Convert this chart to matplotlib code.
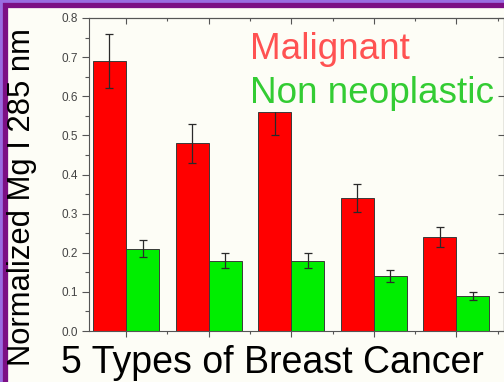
import matplotlib.pyplot as plt
from matplotlib.patches import Rectangle

# data
groups = [1, 2, 3, 4, 5]
malignant = [0.69, 0.48, 0.56, 0.34, 0.24]
malignant_err = [0.07, 0.05, 0.06, 0.035, 0.025]
non_neoplastic = [0.21, 0.18, 0.18, 0.14, 0.09]
non_neoplastic_err = [0.022, 0.02, 0.02, 0.015, 0.01]
y_ticks = [0.0, 0.1, 0.2, 0.3, 0.4, 0.5, 0.6, 0.7, 0.8]

plt.rcParams['font.family'] = ['Liberation Sans', 'DejaVu Sans']

W, H = 504, 382
fig = plt.figure(figsize=(W / 100, H / 100), dpi=100, facecolor='#9a6ce0')

# slide panel with purple border
fig.patches.append(Rectangle((4.5 / W, -0.1), 1.2, 1 - 4.5 / H + 0.1,
                             transform=fig.transFigure, facecolor='#fdfdf6',
                             edgecolor='#7c0f84', linewidth=3.8, zorder=-5))

ax = fig.add_axes([89 / W, 51 / H, (W - 89) / W, (331 - 18) / H])
ax.set_facecolor('none')

width = 0.4
red_x = [g - width / 2 for g in groups]
green_x = [g + width / 2 for g in groups]
err_kw = dict(ecolor='#2a2a2a', elinewidth=0.9, capsize=3, capthick=0.9)
ax.bar(red_x, malignant, width, yerr=malignant_err, color='#ff0000',
       edgecolor='#3a3a3a', linewidth=0.7, error_kw=err_kw)
ax.bar(green_x, non_neoplastic, width, yerr=non_neoplastic_err, color='#00ee00',
       edgecolor='#3a3a3a', linewidth=0.7, error_kw=err_kw)

ax.set_xlim(0.552, 5.576)
ax.set_ylim(0, 0.8)

for s in ax.spines.values():
    s.set_color('#555555')
    s.set_linewidth(0.8)

ax.set_xticks(groups)
ax.set_xticks([g + 0.5 for g in groups], minor=True)
ax.set_yticks(y_ticks)
ax.set_yticks([v + 0.05 for v in y_ticks[:-1]], minor=True)
ax.set_yticklabels([f'{v:.1f}' for v in y_ticks])
ax.tick_params(axis='x', which='both', direction='out', labelbottom=False,
               color='#555555', length=4, width=0.8)
ax.tick_params(axis='x', which='minor', length=2.5)
ax.tick_params(axis='y', which='major', direction='out', length=5, width=0.8,
               color='#555555', labelsize=8.5, labelcolor='#444444', pad=3)
ax.tick_params(axis='y', which='minor', direction='out', length=3, width=0.8,
               color='#555555')

top = ax.secondary_xaxis('top')
top.set_xticks(groups)
top.set_xticks([g + 0.5 for g in groups], minor=True)
top.tick_params(which='both', direction='in', labeltop=False, color='#555555',
                length=4, width=0.8)
top.tick_params(which='minor', length=2.5)
top.spines['top'].set_color('#555555')

right = ax.secondary_yaxis('right')
right.set_yticks(y_ticks)
right.tick_params(direction='in', labelright=False, color='#555555', length=4)

bg = dict(facecolor='#fdfdf6', edgecolor='none', pad=1)
ax.text((250 - 89) / (W - 89), (331 - 59) / (331 - 18), 'Malignant',
        transform=ax.transAxes, fontsize=26.6, color='#ff5252', va='baseline',
        zorder=5, bbox=bg)
ax.text((250 - 89) / (W - 89), (331 - 103) / (331 - 18), 'Non neoplastic',
        transform=ax.transAxes, fontsize=26.6, color='#33cc33', va='baseline',
        zorder=5, bbox=bg, clip_on=False)

fig.text(22 / W, 1 - 197 / H, 'Normalized Mg I 285 nm', rotation=90,
         fontsize=22.3, ha='center', va='center', color='black')
fig.text(272.5 / W, (H - 373) / H, '5 Types of Breast Cancer', fontsize=27,
         ha='center', va='baseline', color='black')

fig.savefig('out.png', dpi=100, facecolor=fig.get_facecolor())
